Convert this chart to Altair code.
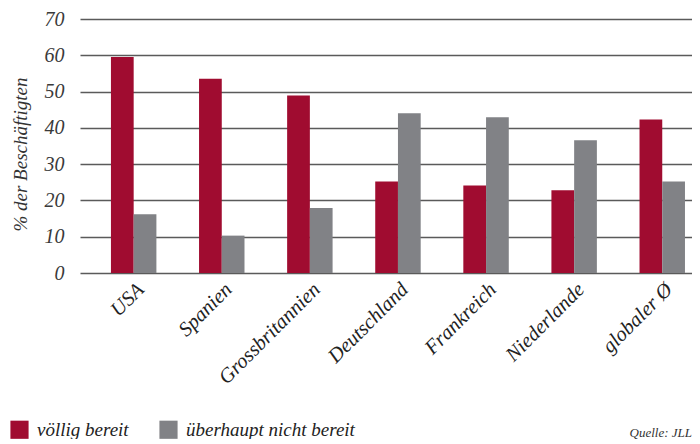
import altair as alt
import pandas as pd

countries = ["USA", "Spanien", "Grossbritannien", "Deutschland", "Frankreich", "Niederlande", "globaler Ø"]
series = ["völlig bereit", "überhaupt nicht bereit"]
voellig = [59.5, 53.5, 48.9, 25.2, 24.1, 22.8, 42.3]
ueberhaupt = [16.2, 10.3, 17.9, 44.0, 42.9, 36.6, 25.2]
colors = ["#A00C30", "#818286"]

rows = []
for c, a, b in zip(countries, voellig, ueberhaupt):
    rows.append({"Land": c, "Serie": series[0], "Wert": a})
    rows.append({"Land": c, "Serie": series[1], "Wert": b})
df = pd.DataFrame(rows)

FONT = "Liberation Serif"

bars = alt.Chart(df).mark_bar().encode(
    x=alt.X("Land:N", sort=countries, title=None,
            scale=alt.Scale(paddingInner=0.484, paddingOuter=0.2155, align=0.815),
            axis=alt.Axis(labelAngle=-45, labelFont=FONT, labelFontStyle="italic",
                          labelFontSize=20.5, labelColor="#222", labelAlign="right",
                          labelBaseline="top", labelOffset=0, labelPadding=6,
                          ticks=False, domain=False, grid=False)),
    xOffset=alt.XOffset("Serie:N", sort=series, scale=alt.Scale(paddingInner=0, paddingOuter=0)),
    y=alt.Y("Wert:Q", title="% der Beschäftigten",
            scale=alt.Scale(domain=[0, 70], nice=False),
            axis=alt.Axis(values=[0, 10, 20, 30, 40, 50, 60, 70], labelFont=FONT,
                          labelFontStyle="italic", labelFontSize=20, labelColor="#3a3a3a",
                          labelPadding=16, ticks=False, domain=False, grid=True,
                          gridColor="#5a5a5a", gridWidth=1.5,
                          titleFont=FONT, titleFontStyle="italic", titleFontWeight="normal",
                          titleFontSize=19, titleColor="#333", titlePadding=14, titleY=135)),
    color=alt.Color("Serie:N", sort=series,
                    scale=alt.Scale(domain=series, range=colors),
                    legend=alt.Legend(title=None, orient="none", legendX=-70, legendY=401,
                                      direction="horizontal", symbolType="square",
                                      symbolSize=330, symbolStrokeWidth=0, symbolOpacity=1,
                                      labelFont=FONT, labelFontStyle="italic",
                                      labelFontSize=19, labelColor="#222", labelLimit=400,
                                      columnPadding=30, labelOffset=8)),
)

src = alt.Chart(pd.DataFrame({"t": ["Quelle: JLL"]})).mark_text(
    font=FONT, fontStyle="italic", fontSize=13, color="#333", align="right", baseline="alphabetic"
).encode(x=alt.value(612), y=alt.value(418), text="t:N")

chart = alt.layer(bars, src).properties(
    width=612, height=254,
    autosize=alt.AutoSizeParams(type="none"),
    padding={"left": 72, "top": 11, "right": 0, "bottom": 166},
).configure_view(stroke=None)

chart.save("out.html", embed_options={"renderer": "svg", "actions": False})
